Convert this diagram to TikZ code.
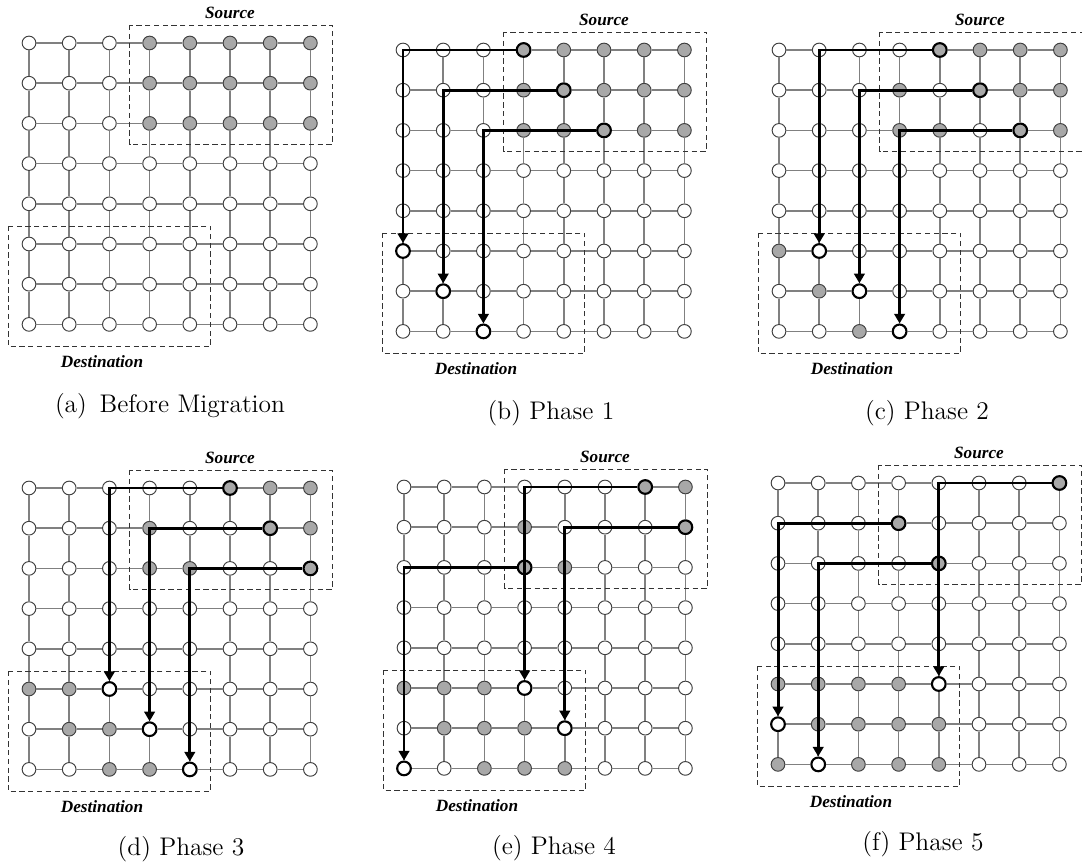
\documentclass[tikz,border=0pt]{standalone}
\usepackage{fontspec}
\newfontfamily\regionfont{Liberation Serif}
\usetikzlibrary{arrows.meta}

\tikzset{
  host/.style={circle,draw=black!75,fill=white,line width=0.55pt,minimum size=7.8pt,inner sep=0pt},
  plain/.style={},
  held/.style={fill=black!34},
  moved/.style={held,draw=black,line width=1.2pt},
  target/.style={draw=black,line width=1.2pt},
  link/.style={draw=black!50,line width=0.85pt},
  region/.style={draw=black!80,line width=0.5pt,dash pattern=on 3pt off 2pt},
  migrate/.style={line width=1.7pt,-{Triangle[width=6pt,length=5.5pt]}},
  regionlabel/.style={font=\regionfont\fontsize{9.8}{11}\selectfont\bfseries\itshape},
  subcap/.style={font=\fontsize{14.5}{17}\selectfont}
}

% \setkind{mesh}{kind}{col-row,...}
\newcommand{\setkind}[3]{\foreach \n in {#3}{\expandafter\gdef\csname kind@#1-\n\endcsname{#2}}}

% 8x8 mesh #1, top left host at (#2,#3)
\newcommand{\mesh}[3]{
  \foreach \c in {0,...,7}
    \foreach \r in {0,...,7}{
      \ifcsname kind@#1-\c-\r\endcsname
        \edef\kind{\csname kind@#1-\c-\r\endcsname}
      \else
        \def\kind{plain}
      \fi
      \node[host,\kind] (#1-\c-\r) at (#2+40.2*\c,#3+40.2*\r) {};
    }
  \foreach \c [evaluate=\c as \d using int(\c+1)] in {0,...,6}
    \foreach \r in {0,...,7}{
      \draw[link] (#1-\c-\r) -- (#1-\d-\r);
      \draw[link] (#1-\r-\c) -- (#1-\r-\d);
    }
  \draw[region] ([shift={(-20,-18)}]#1-3-0.center) rectangle ([shift={(22,21)}]#1-7-2.center);
  \draw[region] ([shift={(-21,-18)}]#1-0-5.center) rectangle ([shift={(21,22)}]#1-4-7.center);
  \node[regionlabel] (#1-src) at ([shift={(0,-30)}]#1-5-0.center) {Source};
  \node[regionlabel] (#1-dst) at ([shift={(73,37)}]#1-0-7.center) {Destination};
}

\setkind{a}{held}{3-0,4-0,5-0,6-0,7-0,3-1,4-1,5-1,6-1,7-1,3-2,4-2,5-2,6-2,7-2}

\setkind{b}{held}{4-0,5-0,6-0,7-0,3-1,5-1,6-1,7-1,3-2,4-2,6-2,7-2}
\setkind{b}{moved}{3-0,4-1,5-2}
\setkind{b}{target}{0-5,1-6,2-7}

\setkind{c}{held}{5-0,6-0,7-0,3-1,6-1,7-1,3-2,4-2,7-2,0-5,1-6,2-7}
\setkind{c}{moved}{4-0,5-1,6-2}
\setkind{c}{target}{1-5,2-6,3-7}

\setkind{d}{held}{6-0,7-0,3-1,7-1,3-2,4-2,0-5,1-5,1-6,2-6,2-7,3-7}
\setkind{d}{moved}{5-0,6-1,7-2}
\setkind{d}{target}{2-5,3-6,4-7}

\setkind{e}{held}{7-0,3-1,4-2,0-5,1-5,2-5,1-6,2-6,3-6,2-7,3-7,4-7}
\setkind{e}{moved}{6-0,7-1,3-2}
\setkind{e}{target}{3-5,4-6,0-7}

\setkind{f}{held}{0-5,1-5,2-5,3-5,1-6,2-6,3-6,4-6,0-7,2-7,3-7,4-7}
\setkind{f}{moved}{7-0,3-1,4-2}
\setkind{f}{target}{4-5,0-6,1-7}

\begin{document}
\begin{tikzpicture}[x=0.02cm,y=-0.02cm]
  \useasboundingbox (0,0) rectangle (1082,864);

  \mesh{a}{29}{43}
  \mesh{b}{403}{50}
  \mesh{c}{779}{50}
  \mesh{d}{29}{488}
  \mesh{e}{404}{487}
  \mesh{f}{778}{483}

  \draw[migrate] (b-3-0.west) -| (b-0-5.north);
  \draw[migrate] (b-4-1.west) -| (b-1-6.north);
  \draw[migrate] (b-5-2.west) -| (b-2-7.north);

  \draw[migrate] (c-4-0.west) -| (c-1-5.north);
  \draw[migrate] (c-5-1.west) -| (c-2-6.north);
  \draw[migrate] (c-6-2.west) -| (c-3-7.north);

  \draw[migrate] (d-5-0.west) -| (d-2-5.north);
  \draw[migrate] (d-6-1.west) -| (d-3-6.north);
  \draw[migrate] (d-7-2.west) -| (d-4-7.north);

  \draw[migrate] (e-6-0.west) -| (e-3-5.north);
  \draw[migrate] (e-7-1.west) -| (e-4-6.north);
  \draw[migrate] (e-3-2.west) -| (e-0-7.north);

  \draw[migrate] (f-7-0.west) -| (f-4-5.north);
  \draw[migrate] (f-3-1.west) -| (f-0-6.north);
  \draw[migrate] (f-4-2.west) -| (f-1-7.north);

  \node[subcap] (a-cap) at ([shift={(141,82)}]a-0-7.center) {(a)\enspace Before Migration};
  \node[subcap] (b-cap) at ([shift={(148,82)}]b-0-7.center) {(b) Phase 1};
  \node[subcap] (c-cap) at ([shift={(148,82)}]c-0-7.center) {(c) Phase 2};
  \node[subcap] (d-cap) at ([shift={(152,80)}]d-0-7.center) {(d) Phase 3};
  \node[subcap] (e-cap) at ([shift={(150,80)}]e-0-7.center) {(e) Phase 4};
  \node[subcap] (f-cap) at ([shift={(145,80)}]f-0-7.center) {(f) Phase 5};
\end{tikzpicture}
\end{document}
